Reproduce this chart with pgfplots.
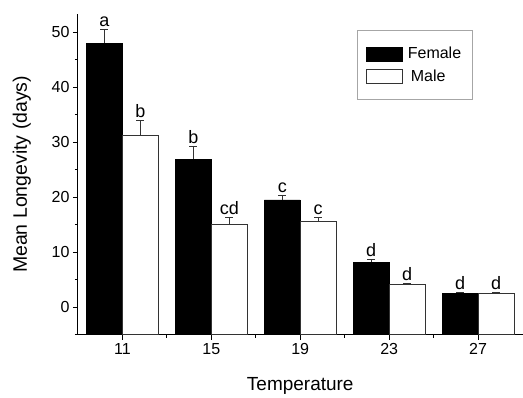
\documentclass[border=0pt]{standalone}
\usepackage{fontspec}
\setmainfont{Liberation Sans}
\usepackage{pgfplots}
\pgfplotsset{compat=1.18}
\usepackage{pgfplotstable}
\usetikzlibrary{calc}

\pgfplotstableread{
x v e lab
11 48.0 2.5 a
15 26.9 2.4 b
19 19.5 0.9 c
23 8.2 0.5 d
27 2.5 0.2 d
}\female
\pgfplotstableread{
x v e lab
11 31.3 2.7 b
15 15.1 1.3 cd
19 15.6 0.7 c
23 4.2 0.2 d
27 2.5 0.2 d
}\male

\begin{document}
\begin{tikzpicture}
\begin{axis}[
  scale only axis, width=445pt, height=321pt,
  xmin=9, xmax=29, ymin=0, ymax=58.3,
  axis lines*=left,
  axis line style={line width=0.9pt, black},
  xtick={11,15,19,23,27}, minor xtick={13,17,21,25},
  ytick={5,15,25,35,45,55}, yticklabels={0,10,20,30,40,50},
  minor ytick={0,10,20,30,40,50},
  tick align=outside, major tick length=5pt, minor tick length=3pt,
  every tick/.style={black, line width=0.8pt},
  tick label style={font=\fontsize{16}{16}\selectfont},
  /pgf/number format/assume math mode=true,
  xlabel={Temperature}, ylabel={Mean Longevity (days)},
  xlabel style={font=\fontsize{19}{19}\selectfont, at={(axis description cs:0.5,-0.1745)}, anchor=base},
  ylabel style={font=\fontsize{19.5}{19.5}\selectfont, at={(axis description cs:-0.1146,0.5)}, anchor=base},
  legend style={at={(0.627,0.95)}, anchor=north west, draw=gray!70, line width=0.8pt,
    font=\fontsize{16}{16}\selectfont, inner xsep=9pt, inner ysep=15pt, row sep=5pt},
  legend cell align=left,
]
\addplot[ybar, bar width=36pt, bar shift=-18pt, fill=black, draw=black, line width=0.8pt,
  legend image code/.code={\draw[fill=black,draw=black,line width=0.8pt] (0pt,-7pt) rectangle (36pt,7pt); \path (39pt,0pt);}]
  table[x=x, y expr=\thisrow{v}+5]{\female};
\addlegendentry{Female}
\addplot[ybar, bar width=36pt, bar shift=18pt, fill=white, draw=black!80, line width=0.8pt,
  legend image code/.code={\draw[fill=white,draw=black!80,line width=0.8pt] (0pt,-7pt) rectangle (36pt,7pt); \path (39pt,0pt);}]
  table[x=x, y expr=\thisrow{v}+5]{\male};
\addlegendentry{\hspace{3pt}Male}
% error bars
\addplot[forget plot, draw=none, mark=none,
  error bars/.cd, y dir=plus, y explicit,
  error bar style={line width=0.8pt, black!80},
  error mark options={rotate=90, mark size=4pt, line width=0.8pt, black!80}]
  table[x expr=\thisrow{x}-0.809, y expr=\thisrow{v}+5, y error=e]{\female};
\addplot[forget plot, draw=none, mark=none,
  error bars/.cd, y dir=plus, y explicit,
  error bar style={line width=0.8pt, black!80},
  error mark options={rotate=90, mark size=4pt, line width=0.8pt, black!80}]
  table[x expr=\thisrow{x}+0.809, y expr=\thisrow{v}+5, y error=e]{\male};
% letters
\addplot[forget plot, only marks, mark=none, nodes near coords, point meta=explicit symbolic,
  nodes near coords style={font=\fontsize{18}{18}\selectfont, anchor=south, inner sep=2.5pt, text=black}]
  table[x expr=\thisrow{x}-0.809, y expr=\thisrow{v}+\thisrow{e}+5, meta=lab]{\female};
\addplot[forget plot, only marks, mark=none, nodes near coords, point meta=explicit symbolic,
  nodes near coords style={font=\fontsize{18}{18}\selectfont, anchor=south, inner sep=2.5pt, text=black}]
  table[x expr=\thisrow{x}+0.809, y expr=\thisrow{v}+\thisrow{e}+5, meta=lab]{\male};
\end{axis}
\path ($(current axis.south west)+(-78pt,-62pt)$) rectangle ($(current axis.north east)+(0pt,14pt)$);
\end{tikzpicture}
\end{document}
